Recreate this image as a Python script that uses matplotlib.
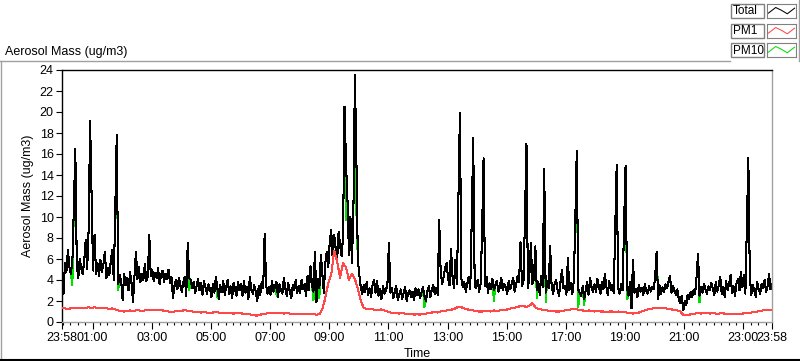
import numpy as np
import matplotlib
matplotlib.use("Agg")
import matplotlib.pyplot as plt
from matplotlib.lines import Line2D
from matplotlib.patches import Rectangle

# Total mass, one value every 3 minutes from 23:58 (one row per hour)
TOTAL = [
    4.2, 2.7, 5.6, 4.8, 6.9, 5.2, 4.6, 5.7, 10.9, 16.5, 5.4, 4.2, 6.0, 5.1, 4.6, 5.8, 7.8, 5.0, 8.8, 19.1,
    11.8, 4.9, 8.3, 4.6, 5.6, 4.4, 5.9, 4.8, 5.5, 6.7, 4.2, 5.1, 4.5, 5.8, 6.9, 4.0, 10.6, 17.8, 3.6, 4.5,
    3.9, 2.1, 4.6, 3.5, 4.2, 3.0, 4.8, 3.7, 1.9, 4.4, 6.7, 4.1, 5.2, 3.8, 4.6, 4.0, 5.5, 3.9, 4.3, 8.3,
    4.4, 5.0, 3.9, 4.7, 4.2, 5.1, 3.6, 4.5, 4.9, 3.8, 4.6, 4.1, 5.0, 3.7, 4.3, 2.3, 3.4, 4.0, 3.1, 4.2,
    3.5, 2.9, 3.8, 4.3, 2.5, 7.5, 4.2, 4.0, 3.2, 3.8, 2.8, 3.4, 4.1, 3.0, 3.7, 2.6, 3.9, 3.3, 2.7, 3.6,
    3.2, 2.4, 3.6, 2.8, 4.3, 3.3, 2.2, 3.5, 2.9, 3.9, 2.6, 3.3, 4.0, 2.7, 3.4, 2.3, 3.7, 3.1, 2.5, 3.8,
    3.0, 3.6, 2.5, 3.9, 2.8, 3.3, 2.2, 4.3, 3.1, 2.7, 3.5, 2.9, 2.0, 3.4, 2.6, 3.8, 3.2, 8.4, 3.5, 2.7,
    3.3, 2.6, 3.9, 2.9, 3.4, 3.8, 2.4, 3.6, 3.0, 2.7, 4.2, 3.2, 2.5, 3.7, 2.9, 2.3, 3.5, 3.0, 4.0, 2.8,
    3.4, 2.8, 4.0, 3.1, 3.6, 2.5, 4.4, 3.0, 5.3, 3.5, 2.9, 6.7, 1.9, 4.1, 3.2, 6.4, 4.6, 2.8, 5.6, 6.7,
    5.2, 7.6, 8.8, 6.0, 8.3, 7.0, 5.8, 8.6, 7.3, 6.3, 8.1, 20.5, 15.1, 11.6, 6.4, 10.0, 5.6, 10.5, 23.5, 15.8,
    5.9, 4.5, 3.3, 2.7, 3.5, 2.9, 3.8, 2.6, 3.2, 2.4, 3.6, 4.0, 2.8, 3.9, 2.5, 3.1, 2.2, 3.4, 2.7, 3.0,
    3.6, 7.5, 2.8, 3.2, 2.3, 2.9, 3.4, 2.1, 2.6, 3.1, 2.2, 2.8, 3.3, 2.0, 2.7, 3.0, 2.4, 2.9, 2.1, 3.2,
    2.6, 3.1, 2.3, 2.8, 3.3, 2.5, 2.0, 2.9, 3.4, 2.4, 3.0, 3.5, 2.7, 3.2, 2.6, 9.7, 4.8, 3.6, 4.3, 5.2,
    5.6, 4.2, 3.5, 7.0, 4.4, 3.2, 5.9, 3.6, 11.6, 19.9, 4.1, 3.3, 3.8, 2.9, 3.7, 4.3, 3.1, 9.7, 17.5, 3.5,
    3.2, 4.0, 2.9, 3.6, 8.6, 15.6, 3.4, 4.3, 2.8, 3.7, 3.1, 4.1, 3.0, 3.5, 3.9, 2.9, 3.3, 4.2, 3.0, 3.6,
    3.3, 2.7, 3.9, 3.1, 3.6, 4.2, 2.9, 3.5, 4.4, 3.8, 7.6, 3.4, 4.0, 9.9, 17.0, 3.2, 4.6, 7.5, 3.6, 4.1,
    7.2, 3.0, 3.8, 2.6, 4.4, 3.3, 14.6, 2.8, 3.9, 3.2, 7.2, 3.5, 2.7, 3.6, 4.0, 3.1, 2.5, 3.8, 5.0, 3.2,
    3.4, 2.6, 6.1, 3.0, 3.7, 2.7, 3.9, 9.6, 16.3, 3.1, 2.8, 2.5, 3.4, 2.2, 3.0, 3.8, 2.6, 4.2, 3.3, 2.9,
    3.6, 2.9, 4.1, 3.3, 2.7, 3.8, 3.1, 4.6, 3.4, 2.6, 3.9, 3.0, 3.5, 2.8, 9.1, 15.0, 3.2, 2.7, 3.6, 3.0,
    9.4, 14.9, 3.3, 2.5, 3.8, 1.3, 5.9, 2.8, 3.1, 2.4, 3.5, 2.9, 3.2, 2.6, 3.6, 3.0, 2.7, 3.4, 2.9, 3.3,
    3.1, 4.3, 6.7, 2.2, 3.5, 2.7, 3.3, 2.9, 3.6, 3.2, 3.8, 4.4, 2.8, 3.4, 3.0, 2.6, 3.1, 2.2, 1.8, 2.5,
    1.1, 2.0, 1.6, 2.6, 2.2, 2.9, 2.4, 3.0, 2.7, 4.3, 6.5, 2.5, 3.3, 2.8, 3.6, 3.1, 2.7, 3.4, 3.0, 3.7,
    3.2, 2.6, 3.8, 2.9, 3.5, 4.3, 2.7, 3.3, 2.4, 3.9, 3.0, 3.6, 4.5, 2.8, 3.4, 2.5, 3.7, 4.1, 3.0, 4.8,
    3.3, 4.5, 2.7, 9.2, 15.6, 4.3, 2.6, 3.5, 3.0, 2.4, 3.8, 3.1, 2.7, 3.6, 3.2, 4.0, 2.9, 3.4, 4.6, 3.1,
    3.6,
]

# PM10 follows Total except at these minutes
PM10_FIX_MIN = [21, 114, 258, 315, 435, 510, 522, 576, 597, 735, 876, 963, 981, 1047, 1059, 1146, 1209, 1293]
PM10_FIX_VAL = [3.5, 3.0, 3.0, 2.4, 2.6, 2.1, 2.3, 9.7, 10.7, 1.4, 2.0, 2.3, 1.9, 1.4, 1.6, 2.2, 2.6, 1.9]

# PM1, one value every 6 minutes from 23:58 (one row per hour)
PM1 = [
    1.3, 1.3, 1.25, 1.3, 1.3, 1.35, 1.3, 1.3, 1.35, 1.4,
    1.35, 1.4, 1.35, 1.3, 1.3, 1.3, 1.25, 1.3, 1.2, 1.1,
    1.05, 1.0, 1.05, 1.1, 1.05, 1.1, 1.1, 1.05, 1.1, 1.15,
    1.1, 1.1, 1.15, 1.1, 1.1, 1.05, 1.0, 0.95, 1.0, 1.05,
    1.05, 1.1, 1.1, 1.05, 1.0, 0.95, 0.95, 0.9, 0.95, 0.9,
    0.9, 0.9, 0.95, 0.9, 0.85, 0.9, 0.85, 0.85, 0.8, 0.85,
    0.85, 0.8, 0.8, 0.75, 0.7, 0.65, 0.6, 0.7, 0.75, 0.8,
    0.85, 0.85, 0.9, 0.85, 0.85, 0.8, 0.85, 0.8, 0.8, 0.8,
    0.8, 0.75, 0.8, 0.8, 0.8, 0.75, 0.7, 0.75, 1.2, 2.3,
    3.7, 4.5, 6.8, 5.8, 4.2, 5.6, 5.2, 4.0, 4.6, 4.1,
    3.2, 2.0, 1.35, 1.25, 1.2, 1.2, 1.15, 1.15, 1.2, 1.1,
    1.0, 0.9, 0.85, 0.85, 0.8, 0.85, 0.8, 0.75, 0.75, 0.7,
    0.75, 0.7, 0.8, 0.8, 0.85, 0.9, 0.95, 0.9, 1.0, 1.05,
    1.1, 1.15, 1.2, 1.3, 1.45, 1.4, 1.3, 1.2, 1.15, 1.1,
    1.05, 1.0, 1.0, 1.05, 1.05, 1.0, 1.1, 1.05, 1.1, 1.15,
    1.15, 1.25, 1.3, 1.35, 1.45, 1.5, 1.5, 1.45, 1.55, 1.8,
    1.4, 1.25, 1.2, 1.15, 1.1, 1.05, 1.05, 1.0, 1.0, 1.05,
    1.1, 1.15, 1.2, 1.25, 1.2, 1.15, 1.1, 1.05, 1.1, 1.05,
    1.0, 1.05, 1.0, 1.0, 0.95, 1.0, 1.0, 0.95, 1.0, 0.95,
    0.95, 0.9, 0.85, 0.8, 0.85, 0.9, 1.0, 1.1, 1.2, 1.25,
    1.3, 1.3, 1.35, 1.3, 1.3, 1.25, 1.2, 1.15, 1.1, 1.0,
    0.7, 0.65, 0.7, 0.75, 0.8, 0.85, 0.8, 0.85, 0.85, 0.8,
    0.85, 0.8, 0.8, 0.85, 0.8, 0.75, 0.75, 0.75, 0.8, 0.75,
    0.8, 0.85, 0.9, 0.9, 0.95, 1.0, 1.05, 1.1, 1.1, 1.1,
    1.15,
]

TICK_MIN = [0, 62, 182, 302, 422, 542, 662, 782, 902, 1022, 1142, 1262, 1382, 1440]
TICK_LABELS = ["23:58", "01:00", "03:00", "05:00", "07:00", "09:00", "11:00",
               "13:00", "15:00", "17:00", "19:00", "21:00", "23:00", "23:58"]
SERIES_NAMES = ["Total", "PM1", "PM10"]
SERIES_COLORS = ["#000000", "#ff4848", "#00e000"]

plt.rcParams["font.family"] = ["Liberation Sans", "DejaVu Sans"]
plt.rcParams["font.size"] = 9

W, H = 800, 361
fig = plt.figure(figsize=(W / 100, H / 100), dpi=100)


def fx(px):
    return px / W


def fy(py):
    return 1 - py / H


t_total = np.arange(len(TOTAL)) * 3
total = np.array(TOTAL)
pm10 = total.copy()
for m, v in zip(PM10_FIX_MIN, PM10_FIX_VAL):
    pm10[m // 3] = v
t_pm1 = np.arange(len(PM1)) * 6
pm1 = np.array(PM1)

ax = fig.add_axes([fx(62), fy(322), fx(772 - 62), (322 - 70) / H])
ax.plot(t_total, pm10, color=SERIES_COLORS[2], lw=0.75, antialiased=False, zorder=1)
ax.plot(t_total, total, color=SERIES_COLORS[0], lw=0.75, antialiased=False, zorder=2)
ax.plot(t_pm1, pm1, color=SERIES_COLORS[1], lw=0.75, antialiased=False, zorder=3)

ax.set_xlim(0, 1440)
ax.set_ylim(0, 24)
ax.set_yticks(range(0, 25, 2))
ax.set_xticks(TICK_MIN)
ax.set_xticklabels(TICK_LABELS)
ax.set_xticks([m for m in range(2, 1440, 15) if m not in TICK_MIN], minor=True)
ax.tick_params(axis="both", which="major", direction="out", length=4, width=0.8,
               labelsize=9, pad=2, color="black")
ax.tick_params(axis="x", which="minor", direction="out", length=2.5, width=0.8, color="black")
ax.tick_params(axis="x", which="major", length=5)

for side in ["top", "left"]:
    ax.spines[side].set_color("black")
    ax.spines[side].set_linewidth(1.0)
for side in ["bottom", "right"]:
    ax.spines[side].set_color("#a0a0a0")
    ax.spines[side].set_linewidth(1.0)

ax.set_xlabel("Time", fontsize=9, labelpad=3)
ax.set_ylabel("Aerosol Mass (ug/m3)", fontsize=9, labelpad=4)

# chart caption and panel frame
fig.text(fx(5), fy(52), "Aerosol Mass (ug/m3)", fontsize=9, va="center", ha="left")
fig.add_artist(Line2D([fx(0), fx(730)], [fy(61), fy(61)], color="#a0a0a0", lw=1))
fig.add_artist(Line2D([fx(0.5), fx(0.5)], [fy(61), fy(361)], color="#a0a0a0", lw=1))
fig.add_artist(Line2D([fx(0), fx(800)], [fy(360), fy(360)], color="black", lw=1.5))

# legend in the top right corner
rows = [4, 24, 43]
zig_x = [0.05, 0.3, 0.5, 0.7, 0.95]
zig_y = [0.35, 0.75, 0.55, 0.3, 0.7]
for name, color, top in zip(SERIES_NAMES, SERIES_COLORS, rows):
    fig.add_artist(Rectangle((fx(731), fy(top + 14)), fx(33), 14 / H, facecolor="white",
                             edgecolor="#808080", lw=1))
    fig.text(fx(733), fy(top + 7.5), name, fontsize=8.5, va="center", ha="left")
    lax = fig.add_axes([fx(767), fy(top + 14), fx(29), 14 / H])
    lax.plot(zig_x, zig_y, color=color, lw=0.75)
    lax.set_xlim(0, 1)
    lax.set_ylim(0, 1)
    lax.set_xticks([])
    lax.set_yticks([])
    for s in lax.spines.values():
        s.set_color("#808080")
fig.add_artist(Line2D([fx(799), fx(799)], [fy(0), fy(61)], color="#a0a0a0", lw=1))

fig.savefig("out.png", dpi=100)
